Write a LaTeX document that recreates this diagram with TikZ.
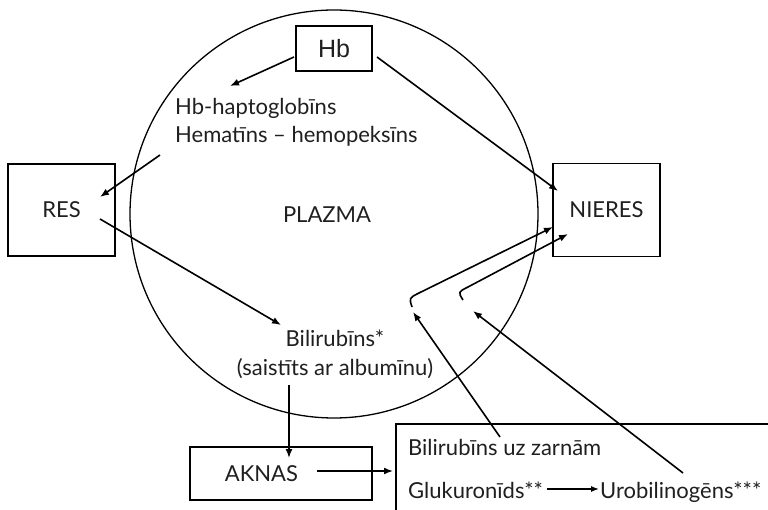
\documentclass[tikz,border=0pt]{standalone}
\usepackage{fontspec}
\setmainfont{Lato}
\newfontfamily\hbfont{Liberation Sans}
\usetikzlibrary{arrows.meta}
\begin{document}
\begin{tikzpicture}[x=1pt,y=-1pt,
  txt/.style={font=\fontsize{22}{26}\selectfont, inner sep=0pt, text=black!88, anchor=base},
  organ/.style={draw, line width=1.3pt, fill=white, font=\fontsize{22}{26}\selectfont,
    text=black!88, text height=15.8pt, text depth=0pt},
  arr/.style={line width=1.6pt, -{Latex[length=9pt,width=7pt]}},
  ln/.style={line width=1.6pt}]
\useasboundingbox (0,0) rectangle (768,510);

% plasma
\draw[line width=1.3pt] (334,214) circle [radius=204];
\node[txt] (plazma) at (327,223) {PLAZMA};

% organ boxes
\node[organ, minimum width=76pt, minimum height=45pt,
  font=\hbfont\fontsize{25}{28}\selectfont, text height=17.9pt] (hb) at (334,48.5) {Hb};
\node[organ, minimum width=107pt, minimum height=92pt] (res) at (61.5,210) {RES};
\node[organ, minimum width=107pt, minimum height=93pt] (nieres) at (606.5,210) {NIERES};
\node[organ, minimum width=182pt, minimum height=53pt] (aknas) at (281,473.5) {\hspace*{-39pt}AKNAS};

% intestine box (open to the right and bottom)
\draw[line width=1.3pt] (769,424) -- (396,424) -- (396,511);
\node[txt, anchor=base west] (zarnas) at (408,455) {Bilirubīns uz zarnām};
\node[txt, anchor=base west] (gluk) at (408,498) {Glukuronīds**};
\node[txt, anchor=base west] (urob) at (600,498) {Urobilinogēns***};

% plasma contents
\node[txt, anchor=base west] (hapto) at (175,115) {Hb-haptoglobīns};
\node[txt, anchor=base west] (hemat) at (175,143) {Hematīns – hemopeksīns};
\node[txt] (bili) at (335,347) {Bilirubīns*};
\node[txt] (alb) at (335,375) {(saistīts ar albumīnu)};

% end points
\coordinate (hbL) at (294,57);
\coordinate (hbR) at (377,57);
\coordinate (haptoTip) at (230,86);
\coordinate (nierTop) at (558,191);
\coordinate (hematEnd) at (160,155);
\coordinate (resIn) at (100,197);
\coordinate (resOut) at (100,219);
\coordinate (biliTip) at (281,325);
\coordinate (albOut) at (289,385);
\coordinate (akIn) at (289,458);
\coordinate (akOut) at (317,471);
\coordinate (boxIn) at (393,471);
\coordinate (zarOut) at (500,437);
\coordinate (zarTip) at (413,312);
\coordinate (urOut) at (683,473);
\coordinate (urTip) at (473,311);
\coordinate (hookA) at (412,307);
\coordinate (hookB) at (463,300);
\coordinate (nierA) at (553,227);
\coordinate (nierB) at (568,234);
\coordinate (glukOut) at (547,489);
\coordinate (urobIn) at (599,489);

% arrows
\draw[arr] (hbL) -- (haptoTip);
\draw[arr] (hbR) -- (nierTop);
\draw[arr] (hematEnd) -- (resIn);
\draw[arr] (resOut) -- (biliTip);
\draw[arr] (albOut) -- (akIn);
\draw[arr] (akOut) -- (boxIn);
\draw[arr] (zarOut) -- (zarTip);
\draw[arr] (urOut) -- (urTip);
\draw[arr] (hookA) .. controls (409,298) .. (419,293) -- (nierA);
\draw[arr] (hookB) .. controls (458,292) .. (468,287) -- (nierB);
\draw[line width=1.3pt, -{Latex[length=8pt,width=6pt]}] (glukOut) -- (urobIn);
\end{tikzpicture}
\end{document}
